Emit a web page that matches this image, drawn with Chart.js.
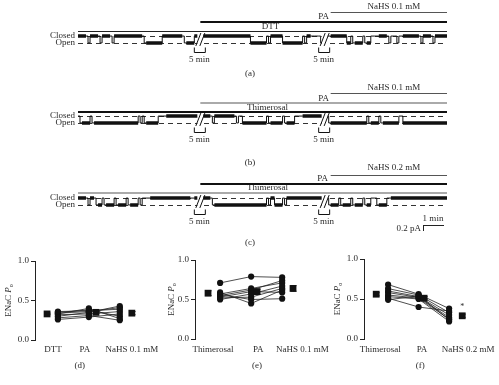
<!DOCTYPE html>
<html><head><meta charset="utf-8">
<script src="https://cdn.jsdelivr.net/npm/chart.js@4.4.0/dist/chart.umd.min.js"></script>
<style>
html,body{margin:0;padding:0;background:#fff;width:499px;height:385px;overflow:hidden}
canvas{position:absolute}
</style></head><body>
<canvas id="ta" width="499" height="80" style="left:0;top:0"></canvas>
<canvas id="tb" width="499" height="90" style="left:0;top:80px"></canvas>
<canvas id="tc" width="499" height="90" style="left:0;top:160px"></canvas>
<canvas id="pd" width="165" height="135" style="left:0;top:250px"></canvas>
<canvas id="pe" width="178" height="135" style="left:160px;top:250px"></canvas>
<canvas id="pf" width="174" height="135" style="left:325px;top:250px"></canvas>
<script>
// ---------- DATA ----------
// channel state per time bin: C closed (busy), c closed, O open (busy), o open, x brief opening, / recording gap (5 min)
const traceA = "CCxCCxCCxCCCCCCCxOOOOCCCCCxOOC/CCCCCCCCCCCCOOOOxCCCOOOOOxCccx/cCCCCOxOOxOccCCxcxcCCCCxCCxCCC".split('');
const traceB = "xOOxOOOOOOOOOOOxxOOOccCCCCCCCC/CCxCCCCCxcOOOOOOxOOOxOOccCCCCC/xOOOOOOOOOxOOxOOOOcOOOOOOOOOOO".split('');
const traceC = "CCxCxOxOOxOOxOOxccCCCCCCCCCCcC/CCxOOOOOOOOOOOOOxCOOxCCCCCCCCC/xOOxOOxOOxOcxOOcCCCCCCCCCCCCCC".split('');
const treatLabelsA = ['DTT', 'PA', 'NaHS 0.1 mM'];
const treatStartsA = [0, 30.5, 63];
const treatLabelsB = ['Thimerosal', 'PA', 'NaHS 0.1 mM'];
const treatStartsB = [0, 30.5, 63];
const treatLabelsC = ['Thimerosal', 'PA', 'NaHS 0.2 mM'];
const treatStartsC = [0, 30.5, 63];
const gapLabel = '5 min';

const yTicks = [0, 0.5, 1.0];
const catD = ['DTT', 'PA', 'NaHS 0.1 mM'];
const dttD  = [0.35, 0.34, 0.33, 0.32, 0.30, 0.28, 0.36, 0.26];
const paD   = [0.38, 0.36, 0.40, 0.33, 0.35, 0.31, 0.37, 0.29];
const nahsD = [0.30, 0.41, 0.27, 0.36, 0.43, 0.25, 0.39, 0.33];
const meanD = [0.33, 0.35, 0.34];
const semD  = [0.01, 0.01, 0.02];

const catE = ['Thimerosal', 'PA', 'NaHS 0.1 mM'];
const thimE = [0.71, 0.59, 0.57, 0.56, 0.55, 0.53, 0.52, 0.50];
const paE   = [0.79, 0.45, 0.64, 0.50, 0.62, 0.60, 0.53, 0.57];
const nahsE = [0.78, 0.62, 0.71, 0.51, 0.74, 0.59, 0.64, 0.67];
const meanE = [0.58, 0.60, 0.64];
const semE  = [0.03, 0.03, 0.035];

const catF = ['Thimerosal', 'PA', 'NaHS 0.2 mM'];
const thimF = [0.68, 0.63, 0.60, 0.58, 0.55, 0.53, 0.51, 0.49];
const paF   = [0.56, 0.55, 0.53, 0.52, 0.51, 0.50, 0.40, 0.54];
const nahsF = [0.38, 0.33, 0.30, 0.27, 0.25, 0.22, 0.35, 0.24];
const meanF = [0.56, 0.51, 0.29];
const semF  = [0.02, 0.02, 0.02];
const sigF  = ['', '', '*'];

// ---------- HELPERS ----------
const FONT = "'Liberation Serif','Times New Roman',serif";
const TXT = '#2a2a2a';
function txt(ctx, s, x, y, size, align, style) {
  ctx.font = (style ? style + ' ' : '') + size + 'px ' + FONT;
  ctx.fillStyle = TXT; ctx.textAlign = align || 'center'; ctx.textBaseline = 'middle';
  ctx.fillText(s, x, y);
}

function buildTrace(codes) {
  const thin = [], busyC = [], busyO = [];
  let last = 1;
  codes.forEach((ch, i) => {
    if (ch === '/') { thin.push({x: i, y: last}); thin.push({x: i + 0.5, y: null}); return; }
    if (ch === 'x') { thin.push({x: i, y: 1}, {x: i + 0.5, y: 0}); last = 0; }
    else { last = (ch === 'O' || ch === 'o') ? 0 : 1; thin.push({x: i, y: last}); }
  });
  thin.push({x: codes.length, y: last});
  const runs = (code, level, arr) => {
    let s = -1;
    codes.concat(['#']).forEach((ch, i) => {
      if (ch === code) { if (s < 0) s = i; }
      else if (s >= 0) { arr.push({x: s, y: level}, {x: i, y: level}, {x: i, y: null}); s = -1; }
    });
  };
  runs('C', 1, busyC); runs('O', 0, busyO);
  return {thin, busyC, busyO};
}

const traceDecor = {
  id: 'traceDecor',
  beforeDatasetsDraw(chart, args, o) {
    const {ctx, chartArea: ca, scales: {y}} = chart;
    ctx.save();
    ctx.strokeStyle = '#333'; ctx.lineWidth = 1; ctx.setLineDash([5, 4]);
    [1, 0].forEach(v => {
      const py = Math.round(y.getPixelForValue(v)) + 0.5;
      ctx.beginPath(); ctx.moveTo(ca.left, py); ctx.lineTo(ca.right, py); ctx.stroke();
    });
    ctx.restore();
  },
  afterDatasetsDraw(chart, args, o) {
    const {ctx, chartArea: ca, scales: {x, y}} = chart;
    const yc = y.getPixelForValue(1), yo = y.getPixelForValue(0);
    ctx.save();
    o.codes.forEach((ch, i) => {
      if (ch !== '/') return;
      const cx = x.getPixelForValue(i + 0.5);
      ctx.fillStyle = '#fff'; ctx.fillRect(cx - 3, yc - 4, 6, yo - yc + 8);
      ctx.strokeStyle = '#111'; ctx.lineWidth = 1;
      [-2, 2].forEach(d => { ctx.beginPath(); ctx.moveTo(cx + d - 2.5, yo + 3); ctx.lineTo(cx + d + 2.5, yc - 3); ctx.stroke(); });
      const by = Math.round(yo) + 4.5;
      ctx.beginPath(); ctx.moveTo(cx - 6, by); ctx.lineTo(cx - 6, by + 5); ctx.lineTo(cx + 5, by + 5); ctx.lineTo(cx + 5, by); ctx.stroke();
      txt(ctx, gapLabel, cx - 1, by + 12, 9);
    });
    o.labels.forEach((lab, k) => {
      const st = o.bars[k];
      const x0 = x.getPixelForValue(o.starts[k]);
      ctx.strokeStyle = st.color; ctx.lineWidth = st.w;
      ctx.beginPath(); ctx.moveTo(x0, st.y); ctx.lineTo(ca.right, st.y); ctx.stroke();
      txt(ctx, lab, x.getPixelForValue(st.tx), st.ty, 9);
    });
    txt(ctx, 'Closed', 75, yc, 9, 'right');
    txt(ctx, 'Open', 75, yo, 9, 'right');
    txt(ctx, o.letter, 250, o.letterY, 9);
    if (o.scaleBar) {
      ctx.strokeStyle = '#222'; ctx.lineWidth = 1;
      ctx.beginPath(); ctx.moveTo(423, 65.5); ctx.lineTo(444, 65.5); ctx.moveTo(423.5, 65); ctx.lineTo(423.5, 71); ctx.stroke();
      txt(ctx, '1 min', 433, 59, 9);
      txt(ctx, '0.2 pA', 421, 69, 9, 'right');
    }
    ctx.restore();
  }
};

function makeTrace(id, codes, labels, starts, cfg) {
  const d = buildTrace(codes);
  const common = {pointRadius: 0, spanGaps: false, borderColor: '#111', fill: false};
  new Chart(document.getElementById(id), {
    type: 'line',
    data: {datasets: [
      Object.assign({data: d.busyC, borderWidth: 3.5, borderCapStyle: 'butt'}, common),
      Object.assign({data: d.busyO, borderWidth: 3.5, borderCapStyle: 'butt'}, common),
      Object.assign({data: d.thin, borderWidth: 1, stepped: true}, common)
    ]},
    options: {
      responsive: false, animation: false, events: [],
      layout: {padding: {left: 78, right: 52, top: cfg.top, bottom: cfg.bottom}},
      scales: {
        x: {type: 'linear', display: false, min: 0, max: codes.length},
        y: {type: 'linear', display: false, min: -0.3, max: 1.3}
      },
      plugins: {legend: {display: false}, tooltip: {enabled: false},
        traceDecor: {codes: codes, labels: labels, starts: starts, bars: cfg.bars, letter: cfg.letter, letterY: cfg.letterY, scaleBar: cfg.scaleBar}}
    },
    plugins: [traceDecor]
  });
}

makeTrace('ta', traceA, treatLabelsA, treatStartsA, {top: 34, bottom: 35, letter: '(a)', letterY: 74, scaleBar: false,
  bars: [{y: 31.5, w: 1, color: '#222', tx: 48, ty: 27}, {y: 22, w: 2, color: '#111', tx: 61.25, ty: 17}, {y: 12.5, w: 1, color: '#555', tx: 78.75, ty: 7}]});
makeTrace('tb', traceB, treatLabelsB, treatStartsB, {top: 34, bottom: 45, letter: '(b)', letterY: 83, scaleBar: false,
  bars: [{y: 32, w: 2, color: '#111', tx: 47.25, ty: 28}, {y: 23, w: 2, color: '#aaa', tx: 61.25, ty: 19}, {y: 13.5, w: 1, color: '#555', tx: 78.75, ty: 8}]});
makeTrace('tc', traceC, treatLabelsC, treatStartsC, {top: 36, bottom: 43, letter: '(c)', letterY: 83, scaleBar: true,
  bars: [{y: 33, w: 2, color: '#aaa', tx: 47.25, ty: 28}, {y: 24, w: 2, color: '#111', tx: 61, ty: 19}, {y: 15.5, w: 1, color: '#555', tx: 78.75, ty: 8}]});

// ---------- SCATTER PANELS ----------
const scatterDecor = {
  id: 'scatterDecor',
  beforeDatasetsDraw(chart, args, o) {
    const {ctx, scales: {x, y}} = chart;
    ctx.save(); ctx.strokeStyle = '#111'; ctx.lineWidth = 1;
    o.means.forEach((m, k) => {
      const px = Math.round(x.getPixelForValue(k + 1 + o.meanOff[k])) + 0.5;
      const y0 = y.getPixelForValue(m - o.sems[k]), y1 = y.getPixelForValue(m + o.sems[k]);
      ctx.beginPath(); ctx.moveTo(px, y0); ctx.lineTo(px, y1);
      ctx.moveTo(px - 3, y0); ctx.lineTo(px + 3, y0); ctx.moveTo(px - 3, y1); ctx.lineTo(px + 3, y1); ctx.stroke();
    });
    ctx.restore();
  },
  afterDraw(chart, args, o) {
    const {ctx, chartArea: ca, scales: {x, y}} = chart;
    ctx.save();
    o.cats.forEach((c, k) => txt(ctx, c, x.getPixelForValue(o.labelPos[k]), 100, 9));
    txt(ctx, o.letter, x.getPixelForValue(o.letterPos), 116, 9);
    (o.sig || []).forEach((s, k) => { if (s) txt(ctx, s, x.getPixelForValue(k + 1 + o.meanOff[k]), y.getPixelForValue(o.means[k]) - 9, 8); });
    ctx.translate(o.titleX, (ca.top + ca.bottom) / 2);
    ctx.rotate(-Math.PI / 2);
    ctx.font = '9px ' + FONT; const w1 = ctx.measureText('ENaC ').width;
    ctx.font = 'italic 9px ' + FONT; const w2 = ctx.measureText('P').width;
    ctx.font = '6px ' + FONT; const w3 = ctx.measureText('o').width;
    let sx = -(w1 + w2 + w3) / 2;
    txt(ctx, 'ENaC ', sx, 0, 9, 'left'); sx += w1;
    txt(ctx, 'P', sx, 0, 9, 'left', 'italic'); sx += w2;
    txt(ctx, 'o', sx, 2.5, 6, 'left');
    ctx.restore();
  }
};

function makeScatter(id, cats, s1, s2, s3, means, sems, cfg) {
  const pts = s1.map(v => ({x: 1, y: v})).concat(s2.map(v => ({x: 2, y: v})), s3.map(v => ({x: 3, y: v})));
  const lines = s1.map((v, i) => ({
    data: [{x: 1, y: s1[i]}, {x: 2, y: s2[i]}, {x: 3, y: s3[i]}],
    borderColor: '#222', borderWidth: 0.8, pointRadius: 0, fill: false
  }));
  new Chart(document.getElementById(id), {
    type: 'line',
    data: {datasets: [
      {data: means.map((m, k) => ({x: k + 1 + cfg.meanOff[k], y: m})), showLine: false, pointStyle: 'rect',
       pointRadius: 4.8, pointBackgroundColor: '#111', pointBorderWidth: 0},
      {data: pts, showLine: false, pointStyle: 'circle', pointRadius: 3.1, pointBackgroundColor: '#111', pointBorderWidth: 0}
    ].concat(lines)},
    options: {
      responsive: false, animation: false, events: [],
      layout: {padding: {left: 0, right: cfg.right, top: cfg.top, bottom: cfg.bottom}},
      scales: {
        x: {type: 'linear', display: false, min: cfg.xmin, max: cfg.xmax},
        y: {type: 'linear', min: 0, max: 1,
            afterBuildTicks: a => { a.ticks = yTicks.map(v => ({value: v})); },
            afterFit: a => { a.width = cfg.axisW; },
            ticks: {callback: v => Number(v).toFixed(1), font: {family: FONT, size: 9}, color: TXT, padding: 2},
            grid: {drawOnChartArea: false, drawTicks: true, tickLength: 4, color: '#222', lineWidth: 1},
            border: {display: true, color: '#222', width: 1}}
      },
      plugins: {legend: {display: false}, tooltip: {enabled: false},
        scatterDecor: {cats: cats, means: means, sems: sems, meanOff: cfg.meanOff, labelPos: cfg.labelPos,
                       letter: cfg.letter, letterPos: cfg.letterPos, titleX: cfg.titleX, sig: cfg.sig}}
    },
    plugins: [scatterDecor]
  });
}

makeScatter('pd', catD, dttD, paD, nahsD, meanD, semD, {axisW: 35, xmin: 0.26, xmax: 4.3, right: 5, top: 11, bottom: 45,
  meanOff: [-0.35, 0.23, 0.39], labelPos: [0.84, 1.87, 3.39], letter: '(d)', letterPos: 1.71, titleX: 9});
makeScatter('pe', catE, thimE, paE, nahsE, meanE, semE, {axisW: 35, xmin: 0.19, xmax: 4.22, right: 18, top: 10, bottom: 46,
  meanOff: [-0.39, 0.19, 0.35], labelPos: [0.77, 2.23, 3.65], letter: '(e)', letterPos: 2.19, titleX: 12});
makeScatter('pf', catF, thimF, paF, nahsF, meanF, semF, {axisW: 39, xmin: 0.21, xmax: 4.34, right: 9, top: 9, bottom: 46,
  meanOff: [-0.39, 0.18, 0.43], labelPos: [0.74, 2.11, 3.62], letter: '(f)', letterPos: 2.05, titleX: 13, sig: sigF});
</script>
</body></html>
